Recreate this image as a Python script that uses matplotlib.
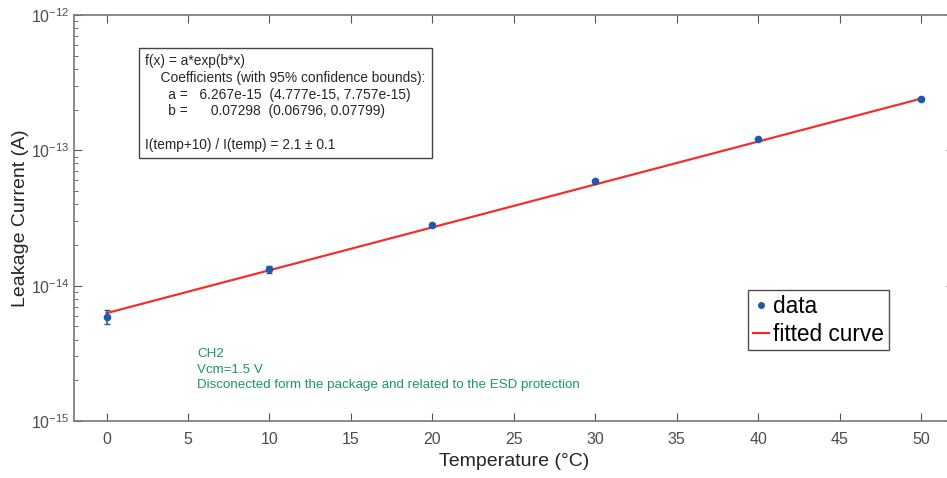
import numpy as np
import matplotlib.pyplot as plt
from matplotlib.lines import Line2D

plt.rcParams['font.family'] = ['Liberation Sans', 'DejaVu Sans']
plt.rcParams['mathtext.fontset'] = 'custom'
plt.rcParams['mathtext.rm'] = 'Liberation Sans'

# measured points
temp = [0, 10, 20, 30, 40, 50]
current = [5.9e-15, 1.33e-14, 2.8e-14, 5.95e-14, 1.21e-13, 2.40e-13]
err_low = [0.7e-15, 0.08e-14, 0.04e-14, 0.05e-14, 0.02e-13, 0.03e-13]
err_high = [0.75e-15, 0.07e-14, 0.04e-14, 0.05e-14, 0.02e-13, 0.03e-13]

# fit coefficients
a_fit = 6.267e-15
b_fit = 0.07298

fit_x = np.linspace(0, 50, 101)
fit_y = a_fit * np.exp(b_fit * fit_x)

fig = plt.figure(figsize=(9.47, 4.78), dpi=100)
ax_w = 953.6 - 74
ax = fig.add_axes([74 / 947, 1 - 421 / 478, ax_w / 947, (421 - 15) / 478])

dot_color = '#1f5aa8'
ax.plot(fit_x, fit_y, color='#f03030', lw=1.6, zorder=2)
ax.errorbar(temp, current, yerr=[err_low, err_high], fmt='o', color=dot_color,
            ms=4.5, elinewidth=1.2, capsize=2.5, zorder=3)

ax.set_yscale('log')
ax.set_xlim(-2, 52)
ax.set_ylim(1e-15, 1e-12)
ax.set_xticks(range(0, 51, 5))
ax.set_yticks([1e-15, 1e-14, 1e-13, 1e-12])
ax.set_yticklabels([r'$10^{-15}$', r'$10^{-14}$', r'$10^{-13}$', r'$10^{-12}$'])

ax.set_xlabel('Temperature (°C)', fontsize=14, color='#262626', labelpad=4)
ax.set_ylabel('Leakage Current (A)', fontsize=14, color='#262626')
ax.yaxis.set_label_coords((29 - 74) / ax_w, 0.5)

ax.tick_params(which='both', direction='in', top=True, right=True, colors='#555555',
               labelcolor='#4d4d4d', labelsize=11.5)
ax.tick_params(which='major', length=6)
ax.tick_params(which='minor', length=3)
ax.tick_params(axis='x', pad=8)
for s in ax.spines.values():
    s.set_color('#777777')
    s.set_linewidth(1.2)

# legend
handles = [Line2D([], [], ls='none', marker='o', ms=4, color=dot_color),
           Line2D([], [], color='#f03030', lw=1.6)]
leg = ax.legend(handles, ['data', 'fitted curve'], loc='upper left',
                bbox_to_anchor=((748 - 74) / ax_w, 1 - (290 - 15) / 406),
                fontsize=16.3, frameon=True, fancybox=False, handlelength=0.7,
                handletextpad=0.2, borderpad=0.22, labelspacing=0.2, borderaxespad=0)
leg.get_frame().set_edgecolor('#222222')
leg.get_frame().set_linewidth(1.0)

box_text = ('f(x) = a*exp(b*x)\n'
            '    Coefficients (with 95% confidence bounds):\n'
            '      a =   6.267e-15  (4.777e-15, 7.757e-15)\n'
            '      b =      0.07298  (0.06796, 0.07799)\n'
            '\n'
            'I(temp+10) / I(temp) = 2.1 ± 0.1')
fig.text(145 / 947, 1 - 54 / 478, box_text, fontsize=9.9, color='#262626',
         va='top', ha='left', linespacing=1.25,
         bbox=dict(boxstyle='square,pad=0.45', fc='white', ec='#444444', lw=1.0))

fig.text(197 / 947, 1 - 348 / 478,
         'CH2\nVcm=1.5 V\nDisconected form the package and related to the ESD protection',
         fontsize=9.65, color='#1a9a5e', va='top', ha='left', linespacing=1.4)

fig.savefig('out.png', dpi=100)
